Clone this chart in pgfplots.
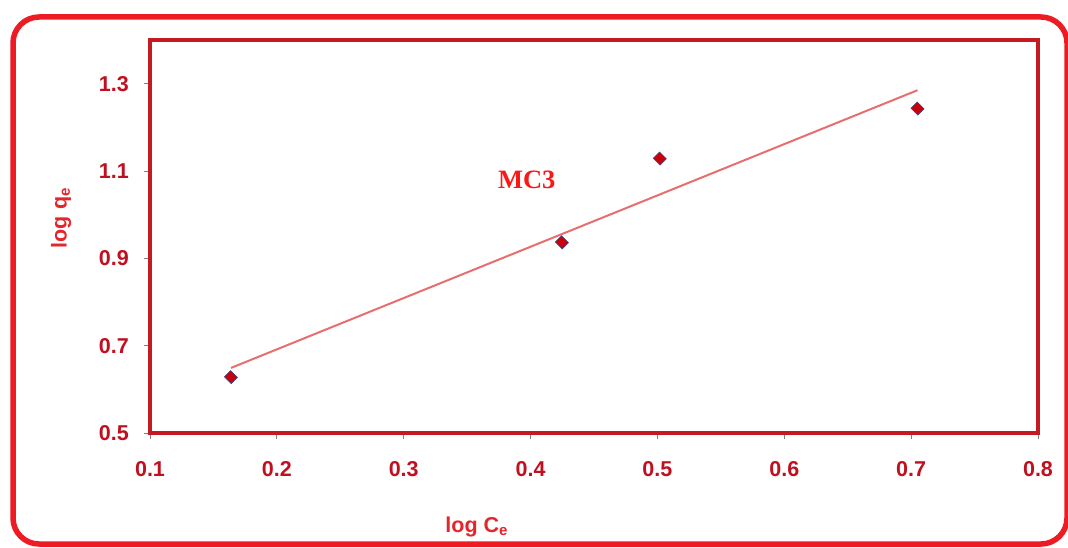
\documentclass[border=0pt]{standalone}
\usepackage{pgfplots}
\pgfplotsset{compat=1.18}
\usepackage{fontspec}
\setmainfont{Liberation Sans}
\newfontfamily\serifMC{Liberation Serif}
\definecolor{framered}{RGB}{237,28,36}
\definecolor{axred}{RGB}{196,26,34}
\definecolor{ticklab}{RGB}{192,16,32}
\definecolor{labred}{RGB}{228,38,44}
\definecolor{trend}{RGB}{232,110,110}
\definecolor{mcred}{RGB}{250,24,24}
\definecolor{mkred}{RGB}{200,0,10}
\definecolor{mkedge}{RGB}{60,70,130}
\begin{document}
\begin{tikzpicture}[x=1pt,y=1pt]
\useasboundingbox (0,0) rectangle (1068,547);
\draw[line width=5.5pt, framered, rounded corners=26pt] (13,3) rectangle (1067,530);
\begin{axis}[
  at={(150pt,114pt)}, anchor=south west,
  scale only axis, width=888pt, height=393pt,
  xmin=0.1, xmax=0.8, ymin=0.5, ymax=1.4,
  xtick={0.1,0.2,...,0.8},
  ytick={0.5,0.7,0.9,1.1,1.3},
  axis line style={axred, line width=3.5pt},
  tick style={gray, line width=1pt},
  tick align=outside,
  major tick length=6pt,
  xtick pos=bottom, ytick pos=left,
  /pgf/number format/assume math mode=true,
  /pgf/number format/.cd, fixed, precision=1, fixed zerofill, /pgfplots/.cd,
  ticklabel style={font=\fontsize{21.5}{21.5}\selectfont\bfseries, text=ticklab, inner sep=0pt},
  xticklabel shift=22pt,
  yticklabel shift=15pt,
  xlabel={log C\textsubscript{e}},
  ylabel={log q\textsubscript{e}},
  label style={font=\fontsize{21.5}{21.5}\selectfont\bfseries, text=labred},
  xlabel style={at={(axis description cs:0.368,-0.252)}, anchor=base},
  ylabel style={at={(axis description cs:-0.1,0.547)}, anchor=center},
  clip=false,
]
\addplot[trend, line width=2pt] coordinates {(0.1638,0.649) (0.705,1.285)};
\addplot[only marks, mark=square*, mark size=4.4pt, mark options={rotate=45, yscale=1.1, fill=mkred, draw=mkedge, line width=0.6pt}] coordinates {
(0.1638,0.628) (0.4247,0.9366) (0.5019,1.1286) (0.705,1.243)};
\node[anchor=base, text=mcred, font=\serifMC\fontsize{26.5}{26.5}\selectfont\bfseries] at (axis cs:0.397,1.06) {MC3};
\end{axis}
\end{tikzpicture}
\end{document}
